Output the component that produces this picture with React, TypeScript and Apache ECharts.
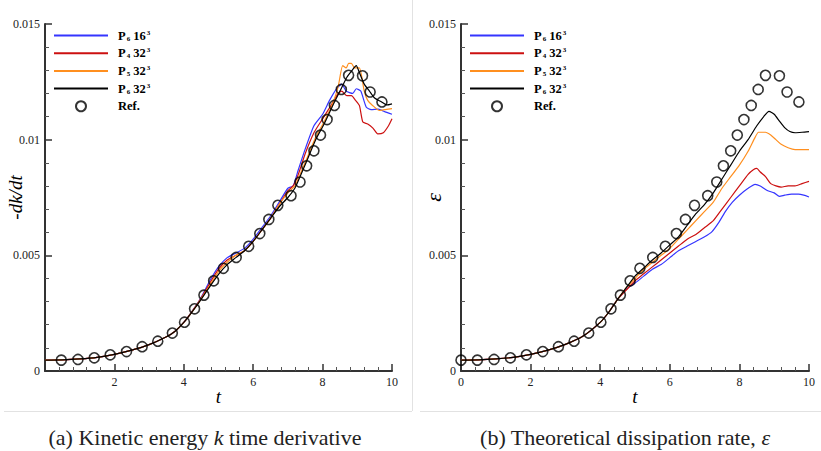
import React, { useEffect, useRef } from 'react';
import * as echarts from 'echarts';

// Reference (DNS) points
const refT = [0, 0.47, 0.95, 1.42, 1.88, 2.35, 2.8, 3.25, 3.67, 4.02, 4.31, 4.58, 4.86, 5.14, 5.51, 5.87, 6.19, 6.45, 6.71, 7.09, 7.35, 7.54, 7.75, 7.94, 8.13, 8.34, 8.54, 8.75, 9.15, 9.37, 9.71];
const refV = [0.00047, 0.00047, 0.0005, 0.00057, 0.0007, 0.00084, 0.00105, 0.00129, 0.00164, 0.00211, 0.00269, 0.00328, 0.0039, 0.00444, 0.00491, 0.00539, 0.00594, 0.00655, 0.00716, 0.00758, 0.00817, 0.00887, 0.00952, 0.0102, 0.01087, 0.01148, 0.01217, 0.01278, 0.01276, 0.01206, 0.01163];

// (a) -dk/dt
const dkP6_16: [number, number][] = [[0, 0.00047], [0.5, 0.00048], [1, 0.00052], [1.5, 0.00059], [2, 0.00072], [2.5, 0.0009], [3, 0.00114], [3.5, 0.00148], [3.75, 0.00172], [4, 0.0021], [4.25, 0.0026], [4.5, 0.00318], [4.75, 0.0039], [5, 0.0045], [5.25, 0.0049], [5.5, 0.0051], [5.75, 0.0053], [6, 0.0057], [6.25, 0.0062], [6.5, 0.0067], [6.75, 0.0073], [7, 0.0079], [7.15, 0.008], [7.3, 0.0087], [7.5, 0.0096], [7.75, 0.0106], [8, 0.0111], [8.2, 0.0117], [8.4, 0.0122], [8.55, 0.0124], [8.68, 0.0121], [8.87, 0.012], [8.97, 0.0122], [9.1, 0.0121], [9.26, 0.0114], [9.4, 0.0113], [9.6, 0.01132], [9.8, 0.0112], [10, 0.0111]];
const dkP4_32: [number, number][] = [[0, 0.00047], [0.5, 0.00048], [1, 0.00052], [1.5, 0.00059], [2, 0.00072], [2.5, 0.0009], [3, 0.00114], [3.5, 0.00148], [3.75, 0.00172], [4, 0.0021], [4.25, 0.0026], [4.5, 0.00315], [4.75, 0.0038], [5, 0.0044], [5.25, 0.0048], [5.5, 0.005], [5.75, 0.0052], [6, 0.0056], [6.25, 0.0061], [6.5, 0.0066], [6.75, 0.0072], [7, 0.0078], [7.15, 0.008], [7.3, 0.0085], [7.5, 0.0094], [7.75, 0.0103], [8, 0.0109], [8.25, 0.0115], [8.45, 0.012], [8.55, 0.0121], [8.7, 0.0119], [8.83, 0.0119], [8.95, 0.0117], [9.06, 0.01148], [9.16, 0.01076], [9.3, 0.01068], [9.45, 0.0105], [9.59, 0.01025], [9.75, 0.0103], [9.9, 0.0106], [10, 0.0109]];
const dkP5_32: [number, number][] = [[0, 0.00047], [0.5, 0.00048], [1, 0.00052], [1.5, 0.00059], [2, 0.00072], [2.5, 0.0009], [3, 0.00114], [3.5, 0.00148], [3.75, 0.00172], [4, 0.0021], [4.25, 0.00258], [4.5, 0.00312], [4.75, 0.0037], [5, 0.0043], [5.25, 0.0047], [5.5, 0.005], [5.75, 0.0052], [6, 0.0056], [6.25, 0.0061], [6.5, 0.0066], [6.75, 0.0072], [7, 0.0077], [7.2, 0.008], [7.35, 0.0085], [7.55, 0.0092], [7.8, 0.0101], [8.05, 0.0108], [8.3, 0.0116], [8.45, 0.0123], [8.58, 0.0132], [8.68, 0.0131], [8.75, 0.0133], [8.83, 0.0133], [8.92, 0.0131], [9.06, 0.0131], [9.2, 0.0121], [9.3, 0.0117], [9.44, 0.01148], [9.64, 0.01126], [9.8, 0.0113], [10, 0.01134]];
const dkP6_32: [number, number][] = [[0, 0.00047], [0.5, 0.00048], [1, 0.00052], [1.5, 0.00059], [2, 0.00072], [2.5, 0.0009], [3, 0.00114], [3.5, 0.00148], [3.75, 0.00172], [4, 0.0021], [4.25, 0.00258], [4.5, 0.0031], [4.75, 0.00365], [5, 0.00418], [5.25, 0.0046], [5.5, 0.0049], [5.75, 0.0052], [6, 0.0056], [6.25, 0.0061], [6.5, 0.0066], [6.75, 0.0071], [7, 0.0075], [7.2, 0.0079], [7.35, 0.0084], [7.55, 0.0091], [7.8, 0.01], [8.05, 0.0107], [8.3, 0.0115], [8.5, 0.0121], [8.7, 0.0127], [8.85, 0.013], [8.97, 0.0132], [9.06, 0.0129], [9.2, 0.0124], [9.35, 0.0121], [9.5, 0.0118], [9.7, 0.01163], [9.85, 0.0115], [10, 0.01155]];

// (b) epsilon
const epsP6_16: [number, number][] = [[0, 0.00047], [0.5, 0.00048], [1, 0.00052], [1.5, 0.00059], [2, 0.00072], [2.5, 0.0009], [3, 0.00115], [3.5, 0.0015], [4, 0.0021], [4.25, 0.00255], [4.5, 0.0031], [4.75, 0.00355], [5, 0.0038], [5.25, 0.0041], [5.5, 0.0044], [5.75, 0.0046], [6, 0.0049], [6.25, 0.0052], [6.5, 0.0054], [6.75, 0.0056], [7, 0.0058], [7.2, 0.006], [7.4, 0.0064], [7.6, 0.0069], [7.8, 0.0073], [8, 0.0076], [8.25, 0.0079], [8.45, 0.00807], [8.6, 0.008], [8.8, 0.0078], [9, 0.0077], [9.15, 0.00755], [9.3, 0.0076], [9.5, 0.00765], [9.7, 0.00765], [9.85, 0.0076], [10, 0.00752]];
const epsP4_32: [number, number][] = [[0, 0.00047], [0.5, 0.00048], [1, 0.00052], [1.5, 0.00059], [2, 0.00072], [2.5, 0.0009], [3, 0.00115], [3.5, 0.0015], [4, 0.0021], [4.25, 0.00255], [4.5, 0.0031], [4.75, 0.0035], [5, 0.0039], [5.25, 0.0042], [5.5, 0.0045], [5.75, 0.0048], [6, 0.0051], [6.25, 0.0054], [6.5, 0.0057], [6.75, 0.0059], [7, 0.0062], [7.25, 0.0065], [7.5, 0.007], [7.75, 0.0075], [8, 0.008], [8.25, 0.0085], [8.4, 0.0087], [8.5, 0.00876], [8.6, 0.0086], [8.75, 0.0084], [8.9, 0.0081], [9.05, 0.008], [9.2, 0.00795], [9.4, 0.008], [9.6, 0.008], [9.8, 0.0081], [10, 0.0082]];
const epsP5_32: [number, number][] = [[0, 0.00047], [0.5, 0.00048], [1, 0.00052], [1.5, 0.00059], [2, 0.00072], [2.5, 0.0009], [3, 0.00115], [3.5, 0.0015], [4, 0.0021], [4.25, 0.00255], [4.5, 0.0031], [4.75, 0.0036], [5, 0.004], [5.25, 0.0044], [5.5, 0.0047], [5.75, 0.005], [6, 0.0053], [6.25, 0.0057], [6.5, 0.0061], [6.75, 0.0065], [7, 0.0069], [7.25, 0.0073], [7.5, 0.0079], [7.75, 0.0084], [8, 0.0089], [8.25, 0.0095], [8.45, 0.0101], [8.55, 0.01032], [8.75, 0.01032], [8.9, 0.0102], [9.05, 0.01], [9.2, 0.0098], [9.4, 0.00965], [9.6, 0.00957], [9.8, 0.00957], [10, 0.00957]];
const epsP6_32: [number, number][] = [[0, 0.00047], [0.5, 0.00048], [1, 0.00052], [1.5, 0.00059], [2, 0.00072], [2.5, 0.0009], [3, 0.00115], [3.5, 0.0015], [4, 0.0021], [4.25, 0.00255], [4.5, 0.0031], [4.75, 0.0036], [5, 0.0041], [5.25, 0.00445], [5.5, 0.0048], [5.75, 0.0051], [6, 0.00545], [6.25, 0.0058], [6.5, 0.0063], [6.75, 0.0068], [7, 0.0072], [7.25, 0.0077], [7.5, 0.0083], [7.75, 0.0089], [8, 0.0095], [8.25, 0.01], [8.5, 0.0106], [8.7, 0.011], [8.85, 0.01122], [9, 0.0111], [9.15, 0.0108], [9.3, 0.01052], [9.45, 0.01035], [9.6, 0.0103], [9.8, 0.01032], [10, 0.01035]];

const seriesNames = ['P6 16', 'P4 32', 'P5 32', 'P6 32', 'Ref.'];
const seriesColors = ['#3535ff', '#cc1010', '#ff8f1f', '#000000'];
const legendRich: Record<string, string> = {
  'P6 16': '{b|P}{sub|6}{b| 16}{sup|3}',
  'P4 32': '{b|P}{sub|4}{b| 32}{sup|3}',
  'P5 32': '{b|P}{sub|5}{b| 32}{sup|3}',
  'P6 32': '{b|P}{sub|6}{b| 32}{sup|3}',
  'Ref.': '{b|Ref.}',
};

const SERIF = '"Liberation Serif", "Times New Roman", serif';

export default function App() {
  const ref = useRef<HTMLDivElement>(null);
  useEffect(() => {
    const chart = echarts.init(ref.current!, null, { renderer: 'svg' });

    const xAxis = (gridIndex: number, showZero: boolean) => ({
      type: 'value', gridIndex, min: 0, max: 10, interval: 2,
      name: 't', nameLocation: 'middle', nameGap: 16, nameMoveOverlap: false,
      nameTextStyle: { fontFamily: SERIF, fontStyle: 'italic', fontSize: 19, color: '#000' },
      axisLine: { show: true, lineStyle: { color: '#333', width: 2 } },
      axisTick: { show: true, inside: true, length: 7, lineStyle: { color: '#333', width: 1.5 } },
      minorTick: { show: true, splitNumber: 5, length: 4, lineStyle: { color: '#555', width: 1 } },
      splitLine: { show: false },
      axisLabel: { margin: 5, fontFamily: SERIF, fontSize: 12, color: '#222', formatter: (v: number) => (v === 0 && !showZero ? '' : String(v)) },
    });
    const yAxis = (gridIndex: number, name: string, gap: number, size: number) => ({
      type: 'value', gridIndex, min: 0, max: 0.015, interval: 0.005,
      name, nameLocation: 'middle', nameGap: gap, nameRotate: 90, nameMoveOverlap: false,
      nameTextStyle: { fontFamily: SERIF, fontStyle: 'italic', fontSize: size, color: '#000' },
      axisLine: { show: true, lineStyle: { color: '#333', width: 2 } },
      axisTick: { show: true, inside: true, length: 7, lineStyle: { color: '#333', width: 1.5 } },
      minorTick: { show: true, splitNumber: 5, length: 4, lineStyle: { color: '#555', width: 1 } },
      splitLine: { show: false },
      axisLabel: { margin: 5, fontFamily: SERIF, fontSize: 12, color: '#222' },
    });

    const lineSeries = (name: string, data: [number, number][], i: number, g: number) => ({
      type: 'line', name, data, xAxisIndex: g, yAxisIndex: g, symbol: 'none', smooth: 0.2,
      lineStyle: { color: seriesColors[i], width: 1.2 }, itemStyle: { color: seriesColors[i] },
      z: 2 + i,
    });
    const refSeries = (g: number, start: number) => ({
      type: 'scatter', name: 'Ref.', xAxisIndex: g, yAxisIndex: g, symbol: 'circle', symbolSize: 10,
      data: refT.slice(start).map((t, k) => [t, refV[k + start]]),
      itemStyle: { color: 'rgba(0,0,0,0)', borderColor: '#000', borderWidth: 1.6 },
      z: 10,
    });

    const legend = (left: number) => ({
      show: true, left, top: 29, orient: 'vertical', padding: 0,
      itemWidth: 54, itemHeight: 10, itemGap: 4.7, selectedMode: false,
      data: seriesNames.map((name) =>
        name === 'Ref.' ? { name } : { name, itemStyle: { opacity: 0, color: 'rgba(0,0,0,0)', borderWidth: 0 } }
      ),
      formatter: (n: string) => legendRich[n],
      textStyle: {
        padding: [0, 0, 0, 5],
        rich: {
          b: { fontFamily: SERIF, fontWeight: 'bold', fontSize: 12.5, color: '#000', lineHeight: 10 },
          sub: { fontFamily: SERIF, fontWeight: 'bold', fontSize: 7, color: '#000', padding: [6, 0, 0, 1], lineHeight: 10 },
          sup: { fontFamily: SERIF, fontWeight: 'bold', fontSize: 7, color: '#000', padding: [0, 0, 6, 1], lineHeight: 10 },
        },
      },
    });

    chart.setOption({
      animation: false,
      backgroundColor: '#fff',
      grid: [
        { left: 45, top: 24, width: 347, height: 347 },
        { left: 461, top: 24, width: 348, height: 347 },
      ],
      xAxis: [xAxis(0, false), xAxis(1, true)],
      yAxis: [yAxis(0, '-dk/dt', 20, 19), yAxis(1, 'ε', 17, 22)],
      legend: [legend(53), legend(469)],
      series: [
        lineSeries('P6 16', dkP6_16, 0, 0),
        lineSeries('P4 32', dkP4_32, 1, 0),
        lineSeries('P5 32', dkP5_32, 2, 0),
        lineSeries('P6 32', dkP6_32, 3, 0),
        refSeries(0, 1),
        lineSeries('P6 16', epsP6_16, 0, 1),
        lineSeries('P4 32', epsP4_32, 1, 1),
        lineSeries('P5 32', epsP5_32, 2, 1),
        lineSeries('P6 32', epsP6_32, 3, 1),
        refSeries(1, 0),
      ],
      graphic: [
        { type: 'line', shape: { x1: 412.5, y1: 0, x2: 412.5, y2: 411 }, style: { stroke: '#e2e2e2', lineWidth: 1 } },
        { type: 'line', shape: { x1: 4, y1: 411.5, x2: 412, y2: 411.5 }, style: { stroke: '#e2e2e2', lineWidth: 1 } },
        { type: 'line', shape: { x1: 420, y1: 411.5, x2: 821, y2: 411.5 }, style: { stroke: '#e2e2e2', lineWidth: 1 } },
        {
          type: 'text', x: 205, y: 437,
          style: {
            text: '{r|(a) Kinetic energy }{i|k}{r| time derivative}',
            align: 'center', verticalAlign: 'middle',
            rich: {
              r: { fontFamily: SERIF, fontSize: 22, fill: '#222' },
              i: { fontFamily: SERIF, fontSize: 22, fontStyle: 'italic', fill: '#222' },
            },
          },
        },
        {
          type: 'text', x: 625, y: 437,
          style: {
            text: '{r|(b) Theoretical dissipation rate, }{i|ε}',
            align: 'center', verticalAlign: 'middle',
            rich: {
              r: { fontFamily: SERIF, fontSize: 22, fill: '#222' },
              i: { fontFamily: SERIF, fontSize: 22, fontStyle: 'italic', fill: '#222' },
            },
          },
        },
      ],
    });
    return () => chart.dispose();
  }, []);
  return <div ref={ref} style={{ position: 'absolute', left: 0, top: 0, width: 821, height: 451 }} />;
}
